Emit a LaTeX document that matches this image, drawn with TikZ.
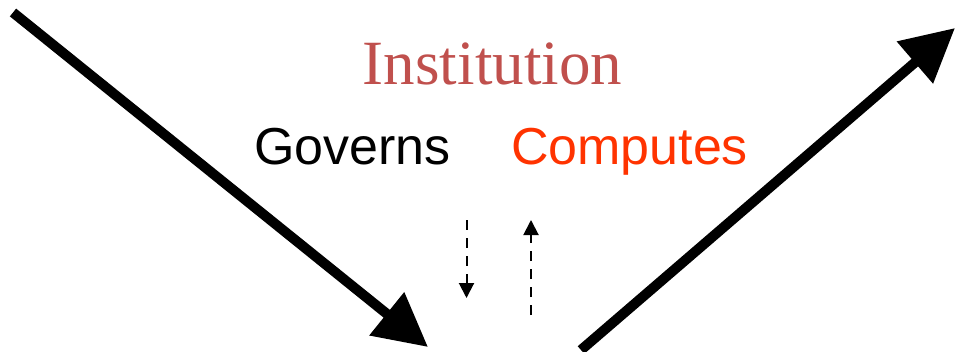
\documentclass[tikz,border=0pt]{standalone}
\usepackage{fontspec}
\usepackage{xcolor}
\usetikzlibrary{arrows.meta,positioning}
\setmainfont{Liberation Serif}
\newfontfamily\arialfont{Liberation Sans}
\definecolor{instred}{RGB}{192,80,77}
\definecolor{compred}{RGB}{255,51,0}
\tikzset{
  bigarrow/.style={line width=10pt, -{Triangle[length=53pt,width=53pt]}},
  flowarrow/.style={line width=2pt, dash pattern=on 10pt off 8pt, -{Triangle[length=15pt,width=15pt]}},
  label/.style={inner sep=0pt, anchor=base}
}
\begin{document}
\begin{tikzpicture}[x=1pt,y=-1pt]
        \useasboundingbox (0,0) rectangle (957,351);
        \coordinate (inL) at (13,12.5);
        \coordinate (inR) at (428,347);
        \coordinate (outL) at (581,350);
        \coordinate (outR) at (955,28);
        \coordinate (govTop) at (466.5,220);
        \coordinate (govBot) at (466.5,298);
        \coordinate (compBot) at (531,315);
        \coordinate (compTop) at (531,220);
        \node[label, text=instred, font=\fontsize{63}{70}\selectfont] (inst) at (492.5,84) {Institution};
        \node[label, font=\arialfont\fontsize{52}{60}\selectfont] (gov) at (352.5,164) {Governs};
        \node[label, text=compred, font=\arialfont\fontsize{52}{60}\selectfont] (comp) at (629.5,164) {Computes};
        \draw[bigarrow] (inL) -- (inR);
        \draw[bigarrow] (outL) -- (outR);
        \draw[flowarrow] (govTop) -- (govBot);
        \draw[flowarrow] (compBot) -- (compTop);
      \end{tikzpicture}
\end{document}
